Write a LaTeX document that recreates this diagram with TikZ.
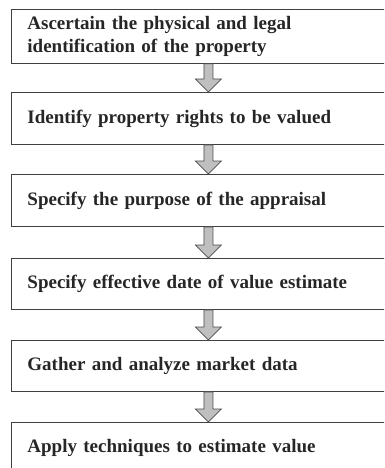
\documentclass[tikz,border=0pt]{standalone}
\usepackage{fontspec}
\setmainfont{Liberation Serif}
\usetikzlibrary{calc}
\tikzset{
  stepbox/.style={draw=black!75, line width=0.9pt, anchor=north west,
    minimum width=382pt, text width=362pt, align=left,
    inner xsep=16pt, inner ysep=0pt,
    font=\fontsize{19}{23}\selectfont\bfseries, text=black!85},
  fatarrow/.style={draw=black!70, line width=0.7pt, fill=black!25, line join=miter},
}
\newcommand{\flowarrow}[2]{%
  \draw[fatarrow] ($(#1.south)+(-4.5pt,0)$) -- ($(#2.north)+(-4.5pt,13pt)$)
    -- ($(#2.north)+(-13pt,13pt)$) -- (#2.north)
    -- ($(#2.north)+(13pt,13pt)$) -- ($(#2.north)+(4.5pt,13pt)$)
    -- ($(#1.south)+(4.5pt,0)$) -- cycle;}
\begin{document}
\begin{tikzpicture}[x=1pt,y=-1pt]
  \useasboundingbox (0,0) rectangle (384,468);
  \clip (0,0) rectangle (384,468);
  \node[stepbox, minimum height=54pt] (s1) at (11,9)
    {Ascertain the physical and legal\\identification of the property};
  \node[stepbox, minimum height=52pt] (s2) at (11,92)
    {Identify property rights to be valued};
  \node[stepbox, minimum height=52pt] (s3) at (11,174)
    {Specify the purpose of the appraisal};
  \node[stepbox, minimum height=51pt] (s4) at (11,258)
    {Specify effective date of value estimate};
  \node[stepbox, minimum height=51pt] (s5) at (11,340)
    {Gather and analyze market data};
  \node[stepbox, minimum height=52pt] (s6) at (11,422)
    {Apply techniques to estimate value};
  \flowarrow{s1}{s2}
  \flowarrow{s2}{s3}
  \flowarrow{s3}{s4}
  \flowarrow{s4}{s5}
  \flowarrow{s5}{s6}
\end{tikzpicture}
\end{document}
